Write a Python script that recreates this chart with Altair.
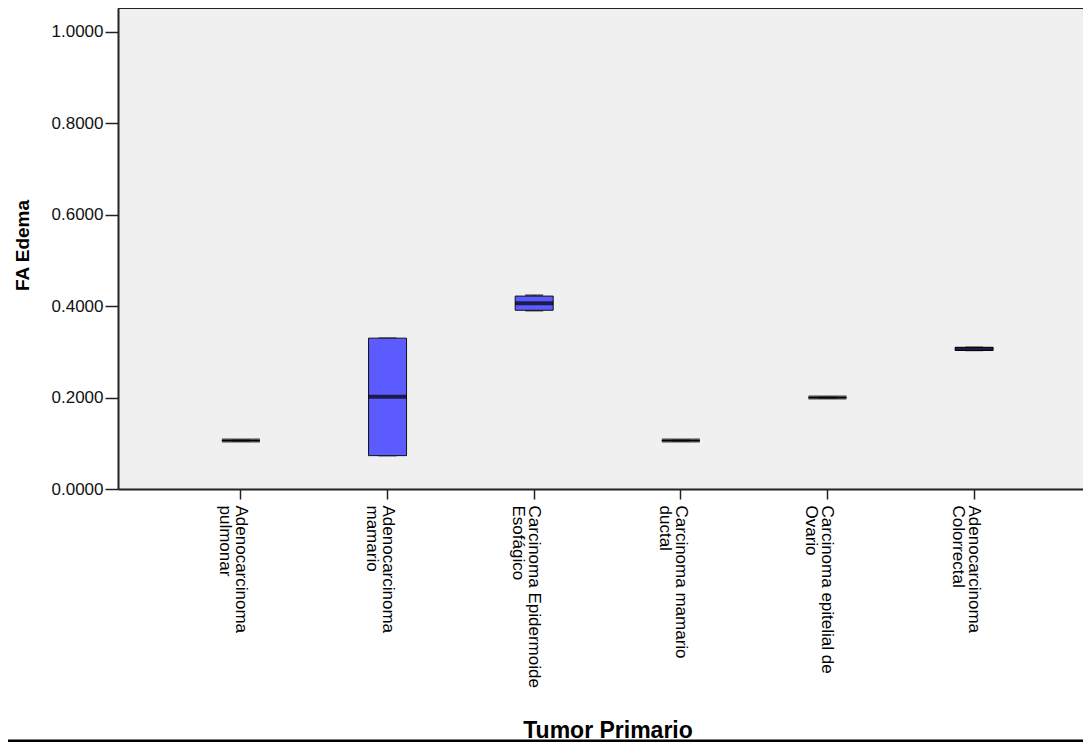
import altair as alt
import pandas as pd

# Categories (line break where the reference wraps the label)
categories = [
    "Adenocarcinoma\npulmonar",
    "Adenocarcinoma\nmamario",
    "Carcinoma Epidermoide\nEsofágico",
    "Carcinoma mamario\nductal",
    "Carcinoma epitelial de\nOvario",
    "Adenocarcinoma\nColorrectal",
]
whisker_low = [0.106, 0.073, 0.390, 0.106, 0.200, 0.303]
q1 = [0.106, 0.073, 0.391, 0.106, 0.200, 0.303]
median = [0.106, 0.202, 0.4065, 0.106, 0.200, 0.3065]
q3 = [0.106, 0.330, 0.422, 0.106, 0.200, 0.310]
whisker_high = [0.106, 0.330, 0.424, 0.106, 0.200, 0.310]

y_ticks = [0.0, 0.2, 0.4, 0.6, 0.8, 1.0]

df = pd.DataFrame({
    "cat": categories,
    "low": whisker_low,
    "q1": q1,
    "med": median,
    "q3": q3,
    "high": whisker_high,
})

FONT = "Liberation Sans"
W, H = 965, 481

xscale = alt.Scale(domain=categories, paddingInner=0, paddingOuter=0.338, range=[0, 979])
yscale = alt.Scale(domain=[0, 1.0522], nice=False, zero=True)

xenc = alt.X(
    "cat:N",
    scale=xscale,
    sort=categories,
    axis=alt.Axis(
        title="Tumor Primario",
        labelAngle=90,
        labelExpr="split(datum.label, '\\n')",
        labelFont=FONT,
        labelFontSize=17,
        labelLineHeight=16,
        labelColor="#000000",
        labelPadding=6,
        labelLimit=400,
        tickSize=10,
        tickColor="#222222",
        tickWidth=1.5,
        domainColor="#222222",
        domainWidth=2,
        titleFont=FONT,
        titleFontSize=23,
        titleFontWeight="bold",
        titleColor="#000000",
        titleY=248,
        titleBaseline="alphabetic",
        grid=False,
    ),
)

yaxis = alt.Axis(
    title="FA Edema",
    values=y_ticks,
    format=".4f",
    labelFont=FONT,
    labelFontSize=17,
    labelColor="#111111",
    labelPadding=2,
    tickSize=13,
    tickColor="#222222",
    tickWidth=1.5,
    domainColor="#222222",
    domainWidth=2,
    titleFont=FONT,
    titleFontSize=19,
    titleFontWeight="bold",
    titleColor="#000000",
    titleX=-90,
    titleY=237,
    titleBaseline="alphabetic",
    grid=False,
)

base = alt.Chart(df)

whisk_low = base.mark_rule(color="black", strokeWidth=1).encode(
    x=xenc, y=alt.Y("low:Q", scale=yscale, axis=yaxis), y2="q1:Q"
)
whisk_high = base.mark_rule(color="black", strokeWidth=1).encode(
    x=xenc, y=alt.Y("q3:Q", scale=yscale, axis=yaxis), y2="high:Q"
)
cap_low = base.mark_tick(color="black", size=18, thickness=1.5).encode(
    x=xenc, y=alt.Y("low:Q", scale=yscale, axis=yaxis)
)
cap_high = base.mark_tick(color="black", size=18, thickness=1.5).encode(
    x=xenc, y=alt.Y("high:Q", scale=yscale, axis=yaxis)
)
box = base.mark_bar(size=38, color="#5b5bff", stroke="#111111", strokeWidth=1).encode(
    x=xenc, y=alt.Y("q1:Q", scale=yscale, axis=yaxis), y2="q3:Q"
)
med = base.mark_tick(color="black", size=38, thickness=4).encode(
    x=xenc, y=alt.Y("med:Q", scale=yscale, axis=yaxis)
)

frame_df = pd.DataFrame({"k": [0]})
top_border = alt.Chart(frame_df).mark_rule(color="#222222", strokeWidth=2).encode(
    x=alt.value(0), x2=alt.value(W), y=alt.value(0)
)
bottom_line = alt.Chart(frame_df).mark_rule(color="black", strokeWidth=3).encode(
    x=alt.value(-118), x2=alt.value(W), y=alt.value(733)
)

chart = alt.layer(
    whisk_low, whisk_high, cap_low, cap_high, box, med, top_border, bottom_line
).properties(
    width=W,
    height=H,
    autosize=alt.AutoSizeParams(type="none"),
    padding={"left": 110, "top": 0, "right": 0, "bottom": 253},
    background="white",
).configure_view(
    fill="#f0f0f0",
    stroke="#f0f0f0",
    strokeWidth=0,
)

chart.save("out.html", embed_options={"renderer": "svg", "actions": False})
